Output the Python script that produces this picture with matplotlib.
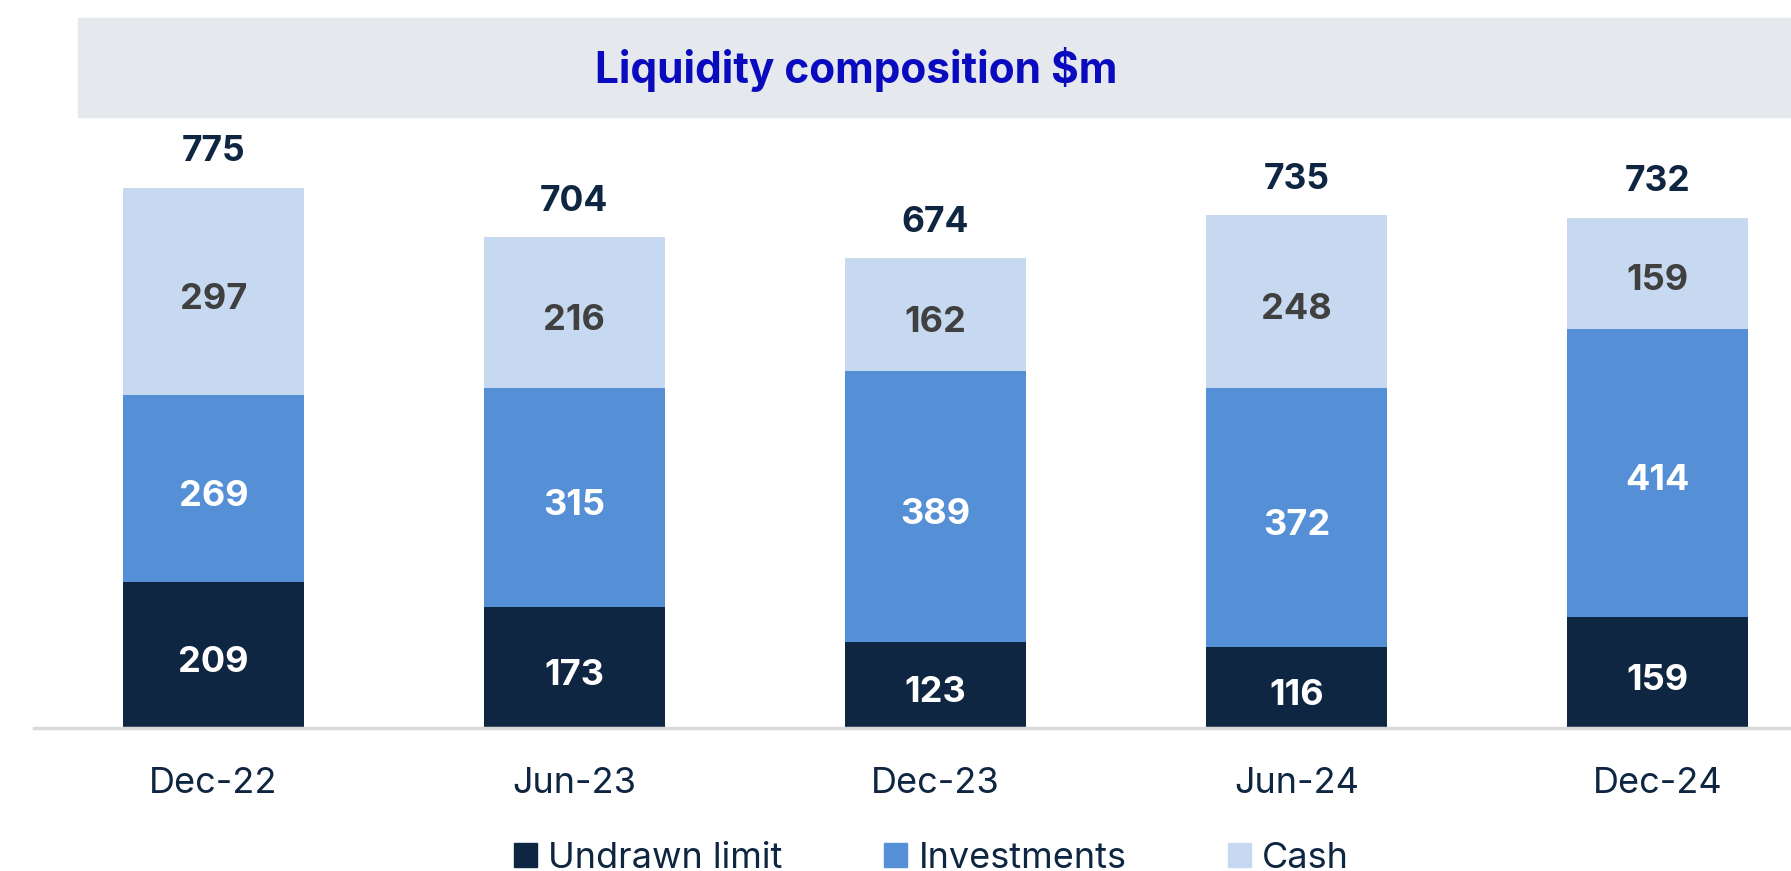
import numpy as np
import matplotlib.pyplot as plt
from matplotlib.patches import Rectangle, Patch

plt.rcParams['font.family'] = ['Inter', 'DejaVu Sans']

# data
periods = ["Dec-22", "Jun-23", "Dec-23", "Jun-24", "Dec-24"]
undrawn = [209, 173, 123, 116, 159]
investments = [269, 315, 389, 372, 414]
cash = [297, 216, 162, 248, 159]
totals = [775, 704, 674, 735, 732]

navy = "#0E2641"
mid_blue = "#558FD6"
light_blue = "#C7D9F0"

fig = plt.figure(figsize=(17.91, 8.71), dpi=100)

# grey title band
fig.patches.append(Rectangle((78 / 1791, 1 - 117 / 871), 1, 99 / 871,
                             transform=fig.transFigure, color="#E5E8EC", zorder=0))
fig.text(0.478, 0.92, r"Liquidity composition \$m", ha="center", va="center",
         fontsize=30.5, fontweight="bold", color="#0A0ABF")

ax = fig.add_axes([34 / 1791, 1 - 728 / 871, 1 - 34 / 1791, (728 - 130) / 871])
x = np.arange(len(periods))
w = 0.5
ax.bar(x, undrawn, w, color=navy, label="Undrawn limit")
ax.bar(x, investments, w, bottom=undrawn, color=mid_blue, label="Investments")
bottom3 = np.array(undrawn) + np.array(investments)
ax.bar(x, cash, w, bottom=bottom3, color=light_blue, label="Cash")

fs = 26
dy = -6  # labels sit a touch below the segment middle
for i in range(len(periods)):
    ax.text(x[i], undrawn[i] / 2 + dy, str(undrawn[i]), ha="center", va="center_baseline",
            color="white", fontsize=fs, fontweight="bold")
    ax.text(x[i], undrawn[i] + investments[i] / 2 + dy, str(investments[i]), ha="center",
            va="center_baseline", color="white", fontsize=fs, fontweight="bold")
    ax.text(x[i], bottom3[i] + cash[i] / 2 + dy, str(cash[i]), ha="center",
            va="center_baseline", color="#404040", fontsize=fs, fontweight="bold")
    ax.text(x[i], totals[i] + 57, str(totals[i]), ha="center", va="center_baseline",
            color=navy, fontsize=fs - 0.5, fontweight="bold")

ax.set_xlim(-0.497, 4.37)
ax.set_ylim(0, 858)
ax.set_xticks(x)
ax.set_xticklabels(periods, fontsize=fs, color=navy)
ax.tick_params(axis="x", length=0, pad=28)
ax.set_yticks([])
for s in ["top", "right", "left"]:
    ax.spines[s].set_visible(False)
ax.spines["bottom"].set_color("#D9D9D9")
ax.spines["bottom"].set_linewidth(2.5)
ax.patch.set_alpha(0)

handles = [Patch(color=navy), Patch(color=mid_blue), Patch(color=light_blue)]
fig.legend(handles, ["Undrawn limit", "Investments", "Cash"], loc="center",
           bbox_to_anchor=(0.52, 1 - 858 / 871), ncol=3, frameon=False,
           fontsize=fs, handlelength=0.64, handleheight=0.64, handletextpad=0.32,
           columnspacing=2.8, labelcolor=navy)

fig.savefig("out.png", dpi=100)
